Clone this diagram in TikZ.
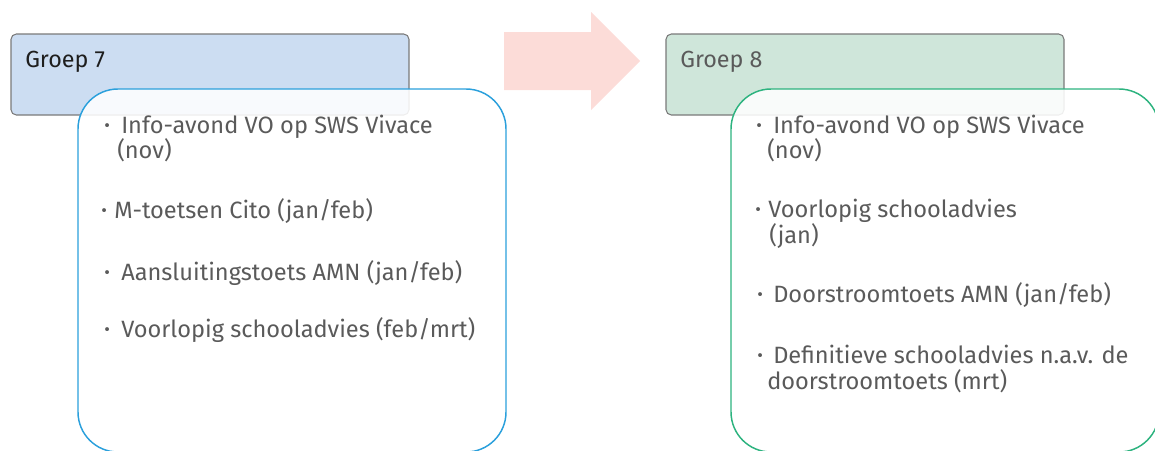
\documentclass[tikz,border=0pt]{standalone}
\usepackage{fontspec}
\setmainfont{Fira Sans}
\definecolor{hdrblue}{HTML}{CCDDF2}
\definecolor{hdrgreen}{HTML}{CFE6DA}
\definecolor{hdredge}{HTML}{7A7A7A}
\definecolor{bluedge}{HTML}{2BA0DC}
\definecolor{greenedge}{HTML}{2DB37F}
\definecolor{arrowpink}{HTML}{FCDCD8}
\definecolor{txtgray}{HTML}{5A5A5A}
\definecolor{txtdark}{HTML}{1E1E1E}
\tikzset{
  hdrbox/.style={draw=hdredge, line width=0.8pt, rounded corners=4pt},
  listbox/.style={line width=1.1pt, fill=white, fill opacity=0.88, rounded corners=30pt},
  itemtext/.style={anchor=base west, inner sep=0pt, text=txtgray, font=\fontsize{17.7}{21}\selectfont},
  bulletdot/.style={anchor=base west, inner sep=0pt, text=txtgray, font=\fontsize{13}{15}\selectfont},
  hdrtext/.style={anchor=base west, inner sep=0pt, font=\fontsize{17.5}{21}\selectfont},
}
\begin{document}
\begin{tikzpicture}[x=0.75pt,y=-0.75pt]
\useasboundingbox (0,0) rectangle (1155,450);
\clip (0,0) rectangle (1155,450);
% arrow
\fill[arrowpink] (504,32) -- (591,32) -- (591,12) -- (640,61) -- (591,110) -- (591,90) -- (504,90) -- cycle;
% Groep 7
\draw[hdrbox, fill=hdrblue] (11,34) rectangle (409,115);
\node[hdrtext, text=txtdark] (g7) at (25,67) {Groep 7};
\draw[listbox, draw=bluedge] (78,89) rectangle (506,452);
% Groep 8
\draw[hdrbox, fill=hdrgreen] (666,34) rectangle (1064,115);
\node[hdrtext, text=txtgray] (g8) at (680,67) {Groep 8};
\draw[listbox, draw=greenedge] (731,89) rectangle (1159,452);
% list 1
\node[bulletdot] (b1a) at (104,131) {•};
\node[itemtext] (t1a) at (121,133) {Info-avond VO op SWS Vivace};
\node[itemtext] (t1b) at (117,158) {(nov)};
\node[bulletdot] (b1c) at (101,216) {•};
\node[itemtext] (t1c) at (114,218) {M-toetsen Cito (jan/feb)};
\node[bulletdot] (b1d) at (104,278) {•};
\node[itemtext] (t1d) at (121,280) {Aansluitingstoets AMN (jan/feb)};
\node[bulletdot] (b1e) at (104,335) {•};
\node[itemtext] (t1e) at (121,337) {Voorlopig schooladvies (feb/mrt)};
% list 2
\node[bulletdot] (b2a) at (756,131) {•};
\node[itemtext] (t2a) at (773,133) {Info-avond VO op SWS Vivace};
\node[itemtext] (t2b) at (767,158) {(nov)};
\node[bulletdot] (b2c) at (755,215) {•};
\node[itemtext] (t2c) at (768,217) {Voorlopig schooladvies};
\node[itemtext] (t2d) at (769,243) {(jan)};
\node[bulletdot] (b2e) at (757,300) {•};
\node[itemtext] (t2e) at (773,302) {Doorstroomtoets AMN (jan/feb)};
\node[bulletdot] (b2f) at (757,361) {•};
\node[itemtext] (t2f) at (773,363) {Definitieve schooladvies n.a.v. de};
\node[itemtext] (t2g) at (767,389) {doorstroomtoets (mrt)};
\end{tikzpicture}
\end{document}
